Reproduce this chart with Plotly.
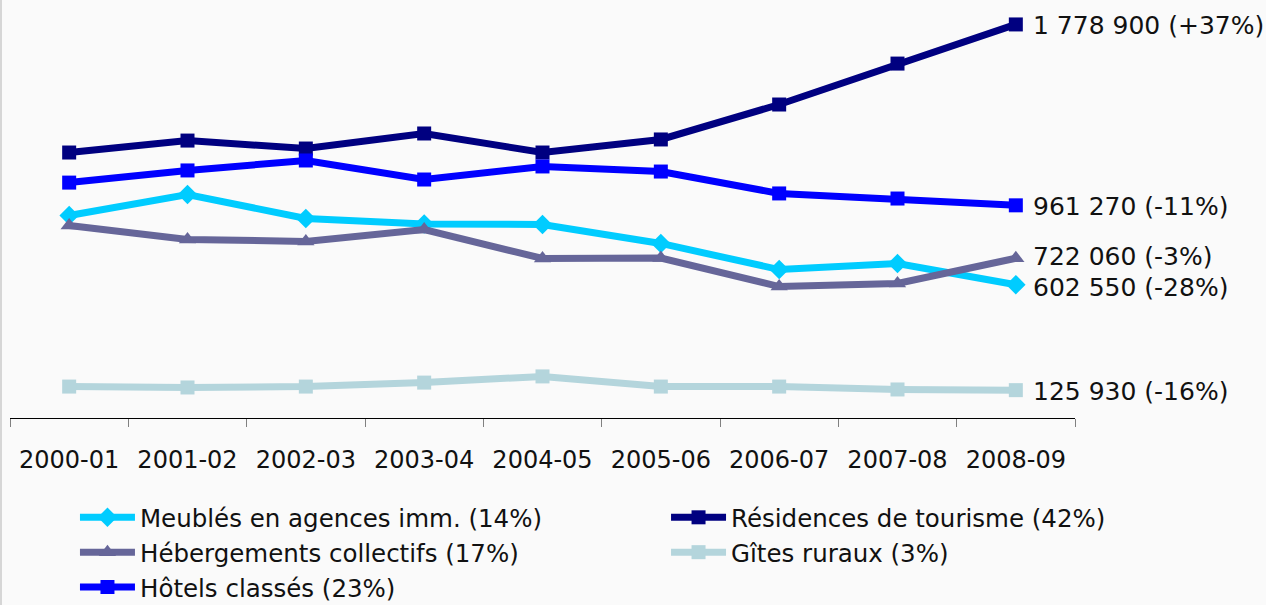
import plotly.graph_objects as go

categories = ["2000-01", "2001-02", "2002-03", "2003-04", "2004-05",
              "2005-06", "2006-07", "2007-08", "2008-09"]

meubles = [915000, 1010000, 902000, 877000, 875000, 789000, 671000, 698000, 602550]
residences = [1200000, 1254000, 1218000, 1286000, 1200000, 1259000, 1417000, 1602000, 1778900]
hebergements = [870000, 807000, 798000, 852000, 721000, 723000, 594000, 608000, 722060]
gites = [142000, 138000, 142000, 160000, 188000, 142000, 142000, 129000, 125930]
hotels = [1064000, 1119000, 1164000, 1078000, 1137000, 1114000, 1015000, 992000, 961270]

series_names = ["Meublés en agences imm. (14%)", "Résidences de tourisme (42%)",
                "Hébergements collectifs (17%)", "Gîtes ruraux (3%)", "Hôtels classés (23%)"]
series_values = [meubles, residences, hebergements, gites, hotels]
series_colors = ["#00CCFF", "#000080", "#666699", "#B4D5DC", "#0000FF"]
series_symbols = ["diamond", "square", "triangle-up", "square", "square"]
series_legend = ["legend", "legend2", "legend", "legend2", "legend"]
end_changes = ["-28%", "+37%", "-3%", "-16%", "-11%"]
label_yshift = [-3, -1, 2, -1, -1]

FONT = "DejaVu Sans, Verdana, sans-serif"

fig = go.Figure()
for name, vals, col, sym, lg in zip(series_names, series_values, series_colors,
                                    series_symbols, series_legend):
    fig.add_trace(go.Scatter(
        x=categories, y=vals, name=name, mode="lines+markers",
        line=dict(color=col, width=7),
        marker=dict(symbol=sym, size=15 if sym != "square" else 14, color=col),
        hoverinfo="skip", legend=lg,
    ))

for vals, chg, ys in zip(series_values, end_changes, label_yshift):
    v = vals[-1]
    label = f"{v:,}".replace(",", " ") + f" ({chg})"
    fig.add_annotation(x=categories[-1], y=v, text=label, showarrow=False,
                       xanchor="left", yanchor="middle", xshift=16, yshift=ys,
                       borderpad=0,
                       font=dict(family=FONT, size=25, color="#111111"))

L, R, T, B = 10, 191, 9, 187
plot_h = 605 - T - B
plot_w = 1266 - L - R

fig.add_shape(type="line", xref="paper", yref="paper",
              x0=(1 - L) / plot_w, x1=(1 - L) / plot_w,
              y0=-B / plot_h, y1=1 + T / plot_h,
              line=dict(color="#d6d6d6", width=2))

legend_common = dict(orientation="v", xanchor="left", yanchor="top", y=-0.188,
                     itemwidth=55, font=dict(family=FONT, size=24.5, color="#111111"),
                     bgcolor="rgba(0,0,0,0)", traceorder="normal")

fig.update_layout(
    width=1266, height=605,
    margin=dict(l=L, r=R, t=T, b=B, autoexpand=False),
    paper_bgcolor="#fafafa", plot_bgcolor="#fafafa",
    font=dict(family=FONT, size=24, color="#111111"),
    showlegend=True,
    legend=dict(x=0.061, **legend_common),
    legend2=dict(x=0.616, **legend_common),
    xaxis=dict(type="category", range=[-0.5, 8.5], showgrid=False, zeroline=False,
               showline=True, linecolor="#000000", linewidth=1,
               ticks="outside", tickson="boundaries", ticklen=8, tickcolor="#808080",
               tickfont=dict(family=FONT, size=24, color="#111111"),
               ticklabelstandoff=20, fixedrange=True),
    yaxis=dict(range=[0, 1848700], visible=False, showgrid=False, zeroline=False, fixedrange=True),
)

fig.write_html("out.html", config={"displayModeBar": False},
               post_script="document.body.style.margin='0';document.body.style.padding='0';")
